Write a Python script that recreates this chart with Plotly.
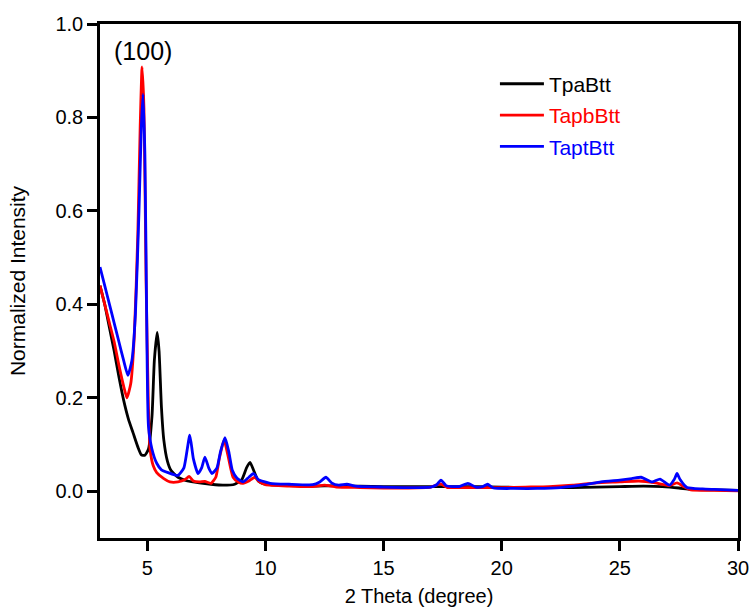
import plotly.graph_objects as go

# TpaBtt (black)
tpa_x = [3.0, 3.2, 3.4, 3.6, 3.8, 4.0, 4.2, 4.4, 4.6, 4.75, 4.9, 5.05, 5.2, 5.3, 5.42, 5.5, 5.6, 5.7, 5.85,
         6.0, 6.3, 6.7, 7.2, 7.7, 8.2, 8.7, 9.0, 9.2, 9.35, 9.5, 9.7, 10.0, 11.0, 12.0, 13.0, 14.0, 15.0,
         16.0, 17.0, 18.0, 19.0, 20.0, 21.0, 22.0, 23.0, 24.0, 25.0, 26.0, 26.8, 27.5, 28.0, 29.0, 30.0]
tpa_y = [0.44, 0.40, 0.35, 0.30, 0.245, 0.195, 0.155, 0.125, 0.095, 0.078, 0.077, 0.09, 0.16, 0.28, 0.34, 0.30,
         0.18, 0.11, 0.065, 0.045, 0.03, 0.022, 0.018, 0.015, 0.013, 0.015, 0.025, 0.05, 0.062, 0.045, 0.022,
         0.015, 0.012, 0.011, 0.012, 0.011, 0.010, 0.010, 0.010, 0.010, 0.010, 0.009, 0.008, 0.008, 0.008,
         0.009, 0.010, 0.011, 0.010, 0.007, 0.004, 0.003, 0.002]

# TapbBtt (red)
tapb_x = [3.0, 3.2, 3.4, 3.6, 3.8, 4.0, 4.14, 4.3, 4.45, 4.6, 4.7, 4.78, 4.86, 4.95, 5.05, 5.12, 5.25, 5.4,
          5.7, 5.96, 6.3, 6.6, 6.77, 6.95, 7.2, 7.44, 7.7, 7.9, 8.05, 8.25, 8.4, 8.63, 8.85, 9.05, 9.3, 9.55,
          9.75, 10.0, 11.0, 12.0, 12.5, 13.0, 14.0, 15.0, 16.0, 17.0, 17.4, 17.7, 18.0, 19.0, 20.0, 21.0,
          22.0, 23.0, 24.0, 25.0, 25.8, 26.5, 27.1, 27.42, 27.7, 28.0, 29.0, 30.0]
tapb_y = [0.44, 0.40, 0.36, 0.32, 0.27, 0.225, 0.20, 0.23, 0.33, 0.55, 0.78, 0.908, 0.82, 0.45, 0.18, 0.09,
          0.055, 0.04, 0.027, 0.02, 0.02, 0.025, 0.032, 0.022, 0.02, 0.021, 0.017, 0.03, 0.07, 0.11, 0.08,
          0.03, 0.02, 0.017, 0.022, 0.03, 0.02, 0.014, 0.011, 0.010, 0.013, 0.009, 0.008, 0.007, 0.007,
          0.009, 0.016, 0.008, 0.008, 0.008, 0.008, 0.009, 0.010, 0.013, 0.018, 0.020, 0.022, 0.018, 0.012,
          0.018, 0.010, 0.003, 0.002, 0.001]

# TaptBtt (blue)
tapt_x = [3.0, 3.2, 3.4, 3.6, 3.8, 4.0, 4.18, 4.35, 4.5, 4.65, 4.75, 4.82, 4.9, 4.97, 5.05, 5.2, 5.4, 5.6,
          5.88, 6.3, 6.55, 6.8, 6.95, 7.15, 7.3, 7.44, 7.6, 7.74, 7.95, 8.1, 8.29, 8.45, 8.6, 8.8, 9.05, 9.3,
          9.5, 9.7, 10.2, 11.0, 12.0, 12.3, 12.56, 12.8, 13.1, 13.45, 13.8, 15.0, 16.0, 17.0, 17.25, 17.43,
          17.65, 18.2, 18.57, 18.9, 19.2, 19.4, 19.65, 20.5, 21.5, 22.5, 23.5, 24.2, 25.0, 25.5, 25.9, 26.36,
          26.7, 27.1, 27.3, 27.42, 27.55, 27.84, 28.5, 29.0, 30.0]
tapt_y = [0.48, 0.44, 0.40, 0.36, 0.32, 0.28, 0.248, 0.28, 0.38, 0.60, 0.78, 0.85, 0.72, 0.40, 0.14, 0.09,
          0.06, 0.046, 0.04, 0.034, 0.05, 0.12, 0.07, 0.038, 0.05, 0.073, 0.05, 0.038, 0.05, 0.085, 0.115,
          0.085, 0.045, 0.028, 0.02, 0.03, 0.038, 0.025, 0.017, 0.015, 0.014, 0.02, 0.03, 0.018, 0.013,
          0.015, 0.011, 0.009, 0.008, 0.009, 0.014, 0.024, 0.012, 0.010, 0.017, 0.009, 0.010, 0.015, 0.007,
          0.006, 0.006, 0.008, 0.014, 0.020, 0.024, 0.027, 0.030, 0.020, 0.026, 0.013, 0.025, 0.038, 0.025,
          0.008, 0.005, 0.004, 0.002]

x_ticks = [5, 10, 15, 20, 25, 30]
y_ticks = [0.0, 0.2, 0.4, 0.6, 0.8, 1.0]

series = [
    ("TpaBtt", tpa_x, tpa_y, "#000000"),
    ("TapbBtt", tapb_x, tapb_y, "#ff0000"),
    ("TaptBtt", tapt_x, tapt_y, "#0000ff"),
]

FONT = "Liberation Sans, Arial, sans-serif"

fig = go.Figure()
for i, (name, xs, ys, col) in enumerate(series):
    fig.add_trace(go.Scatter(
        x=xs, y=ys, mode="lines",
        name=f"<span style='color:{col}'>{name}</span>",
        line=dict(color=col, width=2.8, shape="spline", smoothing=0.5),
        legendgroup=f"g{i}",
    ))

fig.update_layout(
    width=751, height=614,
    margin=dict(l=100, r=13, t=24, b=76),
    paper_bgcolor="white", plot_bgcolor="white",
    font=dict(family=FONT, size=20, color="black"),
    showlegend=True,
    legend=dict(x=0.619, y=0.923, xanchor="left", yanchor="top",
                bgcolor="rgba(0,0,0,0)", font=dict(size=21, family=FONT),
                traceorder="grouped", tracegroupgap=1, itemwidth=44),
    xaxis=dict(range=[3, 30], tickvals=x_ticks,
               showgrid=False, zeroline=False,
               showline=True, linecolor="black", linewidth=2.5, mirror=True,
               ticks="outside", ticklen=10, tickwidth=2.5, tickcolor="black",
               tickfont=dict(size=20, family=FONT),
               title=dict(text="2 Theta (degree)", font=dict(size=20, family=FONT), standoff=12),
               automargin=False),
    yaxis=dict(range=[-0.1, 1.0], tickvals=y_ticks, tickformat=".1f",
               showgrid=False, zeroline=False,
               showline=True, linecolor="black", linewidth=2.5, mirror=True,
               ticks="outside", ticklen=10, tickwidth=2.5, tickcolor="black",
               tickfont=dict(size=20, family=FONT),
               title=dict(text="Normalized Intensity", font=dict(size=21, family=FONT), standoff=25),
               automargin=False),
    annotations=[dict(x=4.82, y=0.942, xref="x", yref="y", text="(100)", showarrow=False,
                      font=dict(size=25, family=FONT, color="black"))],
)

fig.write_html("out.html")
